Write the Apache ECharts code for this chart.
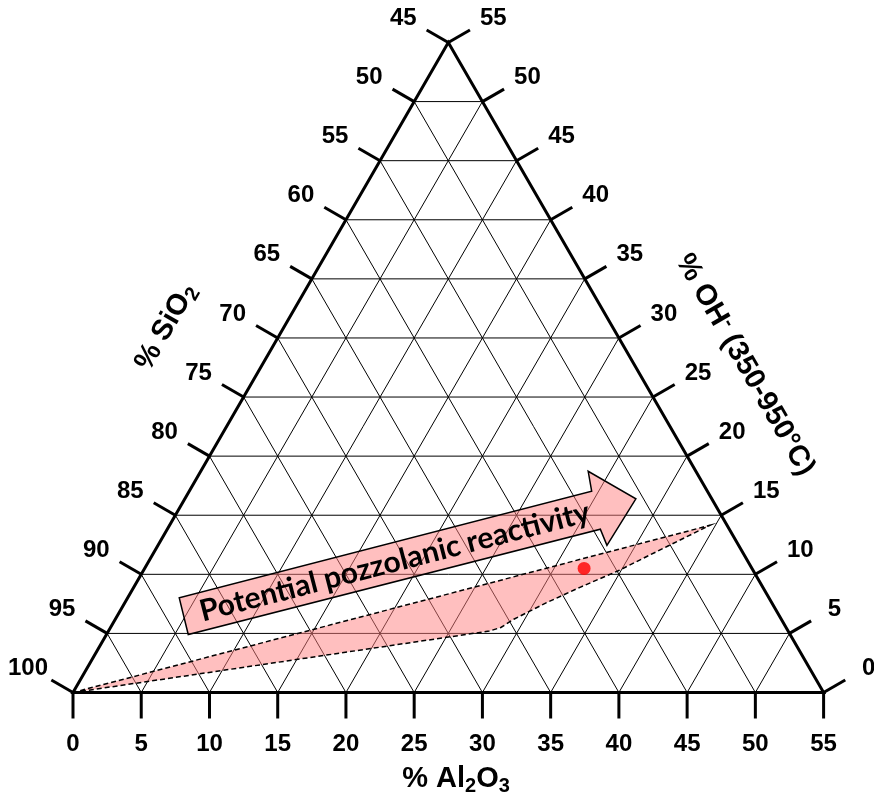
<!DOCTYPE html>
<html><head><meta charset="utf-8">
<script src="https://cdn.jsdelivr.net/npm/echarts@6/dist/echarts.min.js"></script>
<style>html,body{margin:0;padding:0;background:#fff}#c{width:874px;height:798px}</style>
</head><body><div id="c"></div>
<script>
// ---- data (ternary: Al2O3 %, OH- %, SiO2 = 100 - Al2O3 - OH-) ----
const alTicks = [0,5,10,15,20,25,30,35,40,45,50,55];
const siTicks = [100,95,90,85,80,75,70,65,60,55,50,45];
const ohTicks = [0,5,10,15,20,25,30,35,40,45,50,55];
const gridLevels = [5,10,15,20,25,30,35,40,45,50];
const regionAl = [0, 27.9, 28.6, 29.2, 30.9, 32.7, 34.8, 37.4, 39.6];
const regionOH = [0, 5.2, 5.5, 6.2, 7.6, 8.9, 10.3, 12.4, 14.15];
const sampleAl = [32.2];
const sampleOH = [10.5];
const arrowAl = [5.99, 3.78, 29.49, 28.39, 33.05, 32.9, 31.73];
const arrowOH = [4.91, 8.01, 17.03, 18.72, 16.39, 12.45, 13.82];
const arrowLabel = 'Potential pozzolanic reactivity';
const axisTitles = {
  bottom: '{m|% Al}{s|2}{m|O}{s|3}',
  left: '{m|% SiO}{s|2}',
  right: '{m|% OH}{p|-}{m| (350-950°C)}'
};

const SPAN = 55;
const H = Math.sqrt(3) / 2;
const C30 = Math.sqrt(3) / 2;
function cart(al, oh) { return [al + oh / 2, oh * H]; }
const FONT = '"Liberation Sans", Arial, sans-serif';
const PINK = 'rgba(255,128,128,0.5)';

const tickData = [];
alTicks.forEach(v => tickData.push([0, v]));
siTicks.forEach(v => tickData.push([1, v]));
ohTicks.forEach(v => tickData.push([2, v]));

const chart = echarts.init(document.getElementById('c'));

const richTitle = {
  m: { fontSize: 29, fontWeight: 'bold', fontFamily: FONT, fill: '#000', lineHeight: 34 },
  s: { fontSize: 20, fontWeight: 'bold', fontFamily: FONT, fill: '#000', verticalAlign: 'bottom', lineHeight: 20 },
  p: { fontSize: 20, fontWeight: 'bold', fontFamily: FONT, fill: '#000', verticalAlign: 'top', lineHeight: 20 }
};

chart.setOption({
  animation: false,
  grid: { left: 73, top: 42.5, width: 750.6, height: 650 },
  xAxis: { type: 'value', min: 0, max: SPAN, show: false },
  yAxis: { type: 'value', min: 0, max: SPAN * H, show: false },
  graphic: [
    { type: 'text', x: 456, y: 779, style: { text: axisTitles.bottom, rich: richTitle, align: 'center', verticalAlign: 'middle' } },
    { type: 'text', x: 166, y: 327, rotation: Math.PI / 3, style: { text: axisTitles.left, rich: richTitle, align: 'center', verticalAlign: 'middle' } },
    { type: 'text', x: 745, y: 365, rotation: -Math.PI / 3, style: { text: axisTitles.right, rich: richTitle, align: 'center', verticalAlign: 'middle' } }
  ],
  series: [
    { // inner grid
      type: 'custom', clip: false, silent: true, z: 1,
      data: gridLevels.map(v => [v, 0]),
      renderItem(params, api) {
        const v = api.value(0);
        const seg = (a, b) => {
          const p = api.coord(a), q = api.coord(b);
          return { type: 'line', shape: { x1: p[0], y1: p[1], x2: q[0], y2: q[1] }, style: { stroke: '#000', lineWidth: 1 } };
        };
        return { type: 'group', children: [
          seg(cart(0, v), cart(SPAN - v, v)),
          seg(cart(v, 0), cart(v, SPAN - v)),
          seg(cart(v, 0), cart(0, v))
        ] };
      }
    },
    { // reactive region
      type: 'custom', clip: false, silent: true, z: 2,
      data: [[0, 0]],
      renderItem(params, api) {
        const pts = regionAl.map((a, i) => api.coord(cart(a, regionOH[i])));
        return { type: 'polygon', shape: { points: pts }, style: { fill: PINK, stroke: '#000', lineWidth: 1.5, lineDash: [5, 3] } };
      }
    },
    { // arrow
      type: 'custom', clip: false, silent: true, z: 3,
      data: [[0, 0]],
      renderItem(params, api) {
        const pts = arrowAl.map((a, i) => api.coord(cart(a, arrowOH[i])));
        const shaft = [pts[0], pts[1], pts[2], pts[6]];
        const ang = Math.atan2(-(pts[2][1] - pts[1][1]), pts[2][0] - pts[1][0]);
        const shift = 5;
        const cx = shaft.reduce((s, p) => s + p[0], 0) / 4 + shift * Math.cos(ang);
        const cy = shaft.reduce((s, p) => s + p[1], 0) / 4 - shift * Math.sin(ang);
        return { type: 'group', children: [
          { type: 'polygon', shape: { points: pts }, style: { fill: PINK, stroke: '#000', lineWidth: 1.5 } },
          { type: 'text', x: cx, y: cy, rotation: ang, style: { text: arrowLabel, fontFamily: 'Lato', fontWeight: 'bold', fontSize: 30, fill: '#000', align: 'center', verticalAlign: 'middle' } }
        ] };
      }
    },
    { // triangle frame
      type: 'custom', clip: false, silent: true, z: 4,
      data: [[0, 0]],
      renderItem(params, api) {
        const pts = [cart(0, 0), cart(SPAN, 0), cart(0, SPAN)].map(p => api.coord(p));
        return { type: 'polygon', shape: { points: pts }, style: { fill: 'none', stroke: '#000', lineWidth: 3, lineJoin: 'miter' } };
      }
    },
    { // ticks and tick labels
      type: 'custom', clip: false, silent: true, z: 5,
      data: tickData,
      renderItem(params, api) {
        const side = api.value(0), v = api.value(1);
        let p, dir, len, off;
        if (side === 0) { p = api.coord(cart(v, 0)); dir = [0, 1]; len = 26; off = [0, 52]; }
        else if (side === 1) { p = api.coord(cart(0, 100 - v)); dir = [-C30, -0.5]; len = 25; off = [-45, -24]; }
        else { p = api.coord(cart(SPAN - v, v)); dir = [C30, -0.5]; len = 25; off = [45, -24]; }
        return { type: 'group', children: [
          { type: 'line', shape: { x1: p[0], y1: p[1], x2: p[0] + dir[0] * len, y2: p[1] + dir[1] * len }, style: { stroke: '#000', lineWidth: 3 } },
          { type: 'text', x: p[0] + off[0], y: p[1] + off[1], style: { text: String(v), fontFamily: FONT, fontWeight: 'bold', fontSize: 24, fill: '#000', align: 'center', verticalAlign: 'middle' } }
        ] };
      }
    },
    { // sample point
      type: 'scatter', z: 10, silent: true,
      data: sampleAl.map((a, i) => cart(a, sampleOH[i])),
      symbolSize: 13,
      itemStyle: { color: '#ff0000' }
    }
  ]
});
</script>
</body></html>
